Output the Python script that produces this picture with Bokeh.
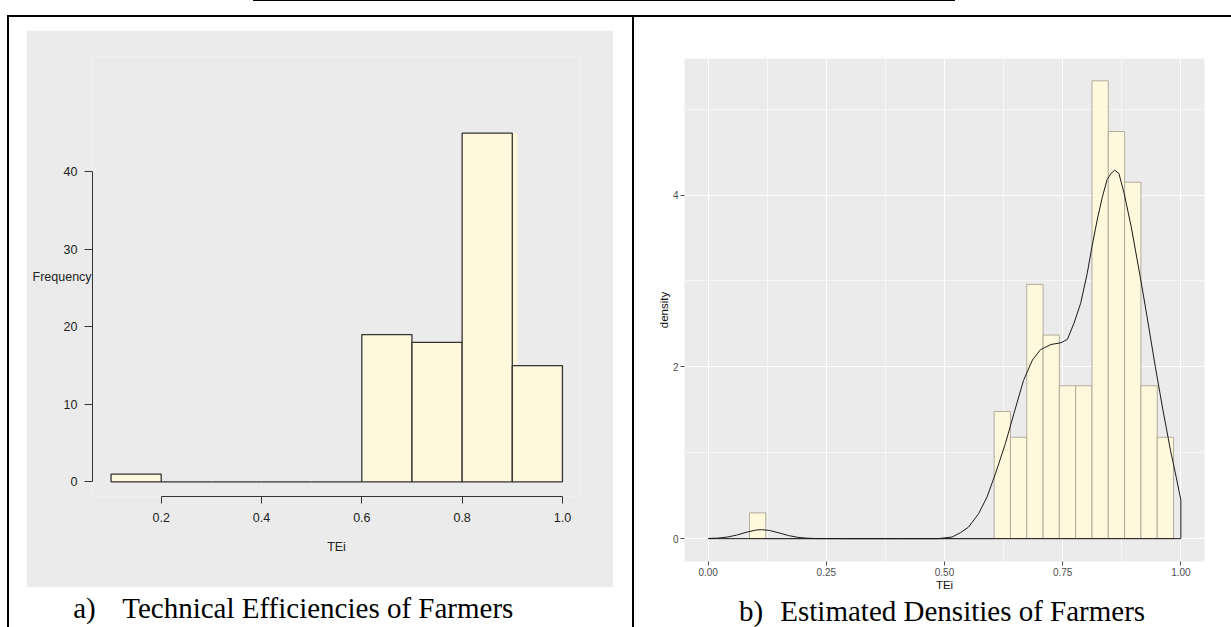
from bokeh.plotting import figure
from bokeh.layouts import row, column
from bokeh.models import (Range1d, FixedTicker, PrintfTickFormatter, Div, Spacer,
                          LinearAxis, Grid)
from bokeh.core.properties import value
from bokeh.embed import file_html
from bokeh.resources import INLINE

# ---------------- data ----------------
# panel a) histogram of technical efficiencies (counts)
hist_edges = [0.1, 0.2, 0.3, 0.4, 0.5, 0.6, 0.7, 0.8, 0.9, 1.0]
hist_counts = [1, 0, 0, 0, 0, 19, 18, 45, 15]
freq_ticks = [0, 10, 20, 30, 40]
tei_ticks_a = [0.2, 0.4, 0.6, 0.8, 1.0]

# panel b) density histogram (30-bin style) + kernel density
dens_bin_left = [0.0875, 0.1220, 0.1565, 0.1910, 0.2255, 0.2600, 0.2945, 0.3290,
                 0.3635, 0.3980, 0.4325, 0.4670, 0.5015, 0.5360, 0.5705, 0.6050,
                 0.6395, 0.6740, 0.7085, 0.7430, 0.7775, 0.8120, 0.8465, 0.8810,
                 0.9155, 0.9500]
dens_bin_width = 0.0345
dens_values = [0.30, 0, 0, 0, 0, 0, 0, 0, 0, 0, 0, 0, 0, 0, 0,
               1.48, 1.18, 2.96, 2.37, 1.78, 1.78, 5.33, 4.74, 4.15, 1.78, 1.18]
kde_x = [0.000, 0.020, 0.040, 0.060, 0.080, 0.100, 0.113, 0.130, 0.150, 0.170,
         0.190, 0.210, 0.230, 0.300, 0.400, 0.486, 0.516, 0.534, 0.551, 0.572,
         0.590, 0.608, 0.629, 0.647, 0.667, 0.686, 0.703, 0.725, 0.746, 0.760,
         0.774, 0.788, 0.802, 0.812, 0.823, 0.834, 0.844, 0.852, 0.860, 0.869,
         0.880, 0.895, 0.914, 0.928, 0.946, 0.962, 0.978, 0.990, 1.000]
kde_y = [0.002, 0.006, 0.018, 0.041, 0.073, 0.099, 0.105, 0.095, 0.067, 0.036,
         0.015, 0.005, 0.001, 0.000, 0.000, 0.000, 0.019, 0.070, 0.135, 0.290,
         0.485, 0.760, 1.110, 1.460, 1.840, 2.080, 2.200, 2.260, 2.280, 2.320,
         2.510, 2.740, 3.090, 3.400, 3.710, 3.980, 4.180, 4.250, 4.290, 4.250,
         4.020, 3.630, 3.050, 2.600, 2.000, 1.500, 1.030, 0.720, 0.450]
dens_xticks = [0.0, 0.25, 0.5, 0.75, 1.0]
dens_xminor = [0.125, 0.375, 0.625, 0.875]
dens_yticks = [0, 2, 4]
dens_yminor = [1, 3, 5]

caption_a = ["a)", "Technical Efficiencies of Farmers"]
caption_b = ["b)", "Estimated Densities of Farmers"]

GREY = "#EBEBEB"
CORNSILK = "#FFF8DC"
SANS = "Liberation Sans"
SERIF = "Liberation Serif"


def no_grid(p):
    for g in p.grid:
        g.visible = False


# ---------------- panel a ----------------
p1 = figure(width=587, height=557, output_backend="svg", toolbar_location=None, title=None,
            x_range=Range1d(0.063, 1.036), y_range=Range1d(-1.9, 54.9),
            x_axis_location=None, y_axis_location=None,
            min_border_left=66, min_border_right=33, min_border_top=26, min_border_bottom=91,
            background_fill_color=GREY, border_fill_color=GREY, outline_line_color=None)
no_grid(p1)

imax = hist_counts.index(max(hist_counts))
# faint offset shade seen beside the tallest bar
p1.quad(left=[hist_edges[imax] + 0.01], right=[hist_edges[imax + 1] + 0.01],
        bottom=[0], top=[hist_counts[imax]], fill_color=CORNSILK, line_color=None)
p1.quad(left=hist_edges[:-1], right=hist_edges[1:], bottom=0, top=hist_counts,
        fill_color=CORNSILK, line_color="#333333", line_width=1.3)

yax1 = LinearAxis(ticker=FixedTicker(ticks=freq_ticks), bounds=(min(freq_ticks), max(freq_ticks)),
                  axis_label="Frequency")
xax1 = LinearAxis(ticker=FixedTicker(ticks=tei_ticks_a), bounds=(min(tei_ticks_a), max(tei_ticks_a)),
                  formatter=PrintfTickFormatter(format="%.1f"), axis_label="TEi")
for ax in (yax1, xax1):
    ax.axis_line_color = "#333333"
    ax.axis_line_width = 1
    ax.major_tick_line_color = "#333333"
    ax.major_tick_in = 0
    ax.minor_tick_line_color = None
    ax.major_label_text_font = SANS
    ax.major_label_text_font_size = "12.5px"
    ax.major_label_text_color = "#222222"
    ax.axis_label_text_font = SANS
    ax.axis_label_text_font_size = "12.5px"
    ax.axis_label_text_font_style = "normal"
    ax.axis_label_text_color = "#222222"
yax1.major_tick_out = 8
yax1.major_label_standoff = 7
yax1.axis_label_orientation = "horizontal"
yax1.axis_label_standoff = -31
xax1.major_tick_out = 7
xax1.major_label_standoff = 9
xax1.axis_label_standoff = 15
p1.add_layout(yax1, "left")
p1.add_layout(xax1, "below")

# ---------------- panel b ----------------
p2 = figure(width=597, height=576, output_backend="svg", toolbar_location=None, title=None,
            x_range=Range1d(-0.05, 1.05), y_range=Range1d(-0.266, 5.590),
            x_axis_location=None, y_axis_location=None,
            min_border_left=50, min_border_right=27, min_border_top=41, min_border_bottom=32,
            background_fill_color=GREY, border_fill_color="white", outline_line_color=None)
no_grid(p2)

xt2 = FixedTicker(ticks=dens_xticks, minor_ticks=dens_xminor)
yt2 = FixedTicker(ticks=dens_yticks, minor_ticks=dens_yminor)
xax2 = LinearAxis(ticker=xt2, formatter=PrintfTickFormatter(format="%.2f"), axis_label="TEi")
yax2 = LinearAxis(ticker=yt2, axis_label="density")
for ax in (xax2, yax2):
    ax.axis_line_color = None
    ax.major_tick_line_color = "#4D4D4D"
    ax.major_tick_in = 0
    ax.major_tick_out = 4
    ax.minor_tick_line_color = None
    ax.major_label_text_font = SANS
    ax.major_label_text_font_size = "10px"
    ax.major_label_text_color = "#4D4D4D"
    ax.axis_label_text_font = SANS
    ax.axis_label_text_font_size = "11.5px"
    ax.axis_label_text_font_style = "normal"
    ax.axis_label_text_color = "#111111"
xax2.major_label_standoff = 2
xax2.axis_label_standoff = 0
yax2.major_label_standoff = 2
yax2.axis_label_standoff = 0
p2.add_layout(xax2, "below")
p2.add_layout(yax2, "left")
for dim, tk in ((0, xt2), (1, yt2)):
    p2.add_layout(Grid(dimension=dim, ticker=tk, grid_line_color="white", grid_line_width=1.1,
                       minor_grid_line_color="white", minor_grid_line_width=0.55))

p2.quad(left=dens_bin_left, right=[v + dens_bin_width for v in dens_bin_left],
        bottom=0, top=dens_values, fill_color=CORNSILK, line_color="#ABA595", line_width=0.9)
# density outline (closed at the baseline as geom_density does)
p2.patch(x=kde_x + [kde_x[-1], kde_x[0]], y=kde_y + [0, 0],
         fill_color=None, line_color="#1A1A1A", line_width=1)


# ---------------- captions ----------------
def caption_fig(w, h, texts, xs, y):
    c = figure(width=w, height=h, output_backend="svg", toolbar_location=None, title=None,
               x_range=Range1d(0, w), y_range=Range1d(0, h),
               x_axis_location=None, y_axis_location=None, min_border=0,
               background_fill_color="white", border_fill_color="white", outline_line_color=None)
    no_grid(c)
    c.text(x=xs, y=[y] * len(texts), text=texts, text_font=value(SERIF),
           text_font_size="29px", text_baseline="alphabetic", text_align="left",
           text_color="black")
    return c


cap_a = caption_fig(623, 40, caption_a, [63.7, 112.7], 19.3)
cap_b = caption_fig(597, 34, caption_b, [62.7, 110], 16.1)


# ---------------- page frame ----------------
def bar(w, h):
    return Div(width=w, height=h, margin=0, styles={"background-color": "black"})


def gap(w, h):
    return Spacer(width=w, height=h, margin=0)


top_strip = column(row(gap(253, 1), bar(702, 1)),
                   gap(1231, 14),
                   row(gap(7, 2), bar(1224, 2)))
left_cell = column(gap(623, 13),
                   row(gap(17, 557), p1, gap(19, 557)),
                   cap_a)
right_cell = column(p2, cap_b)
page = column(top_strip, row(gap(7, 610), bar(2, 610), left_cell, bar(2, 610), right_cell))

open("out.html", "w").write(file_html(page, INLINE))
